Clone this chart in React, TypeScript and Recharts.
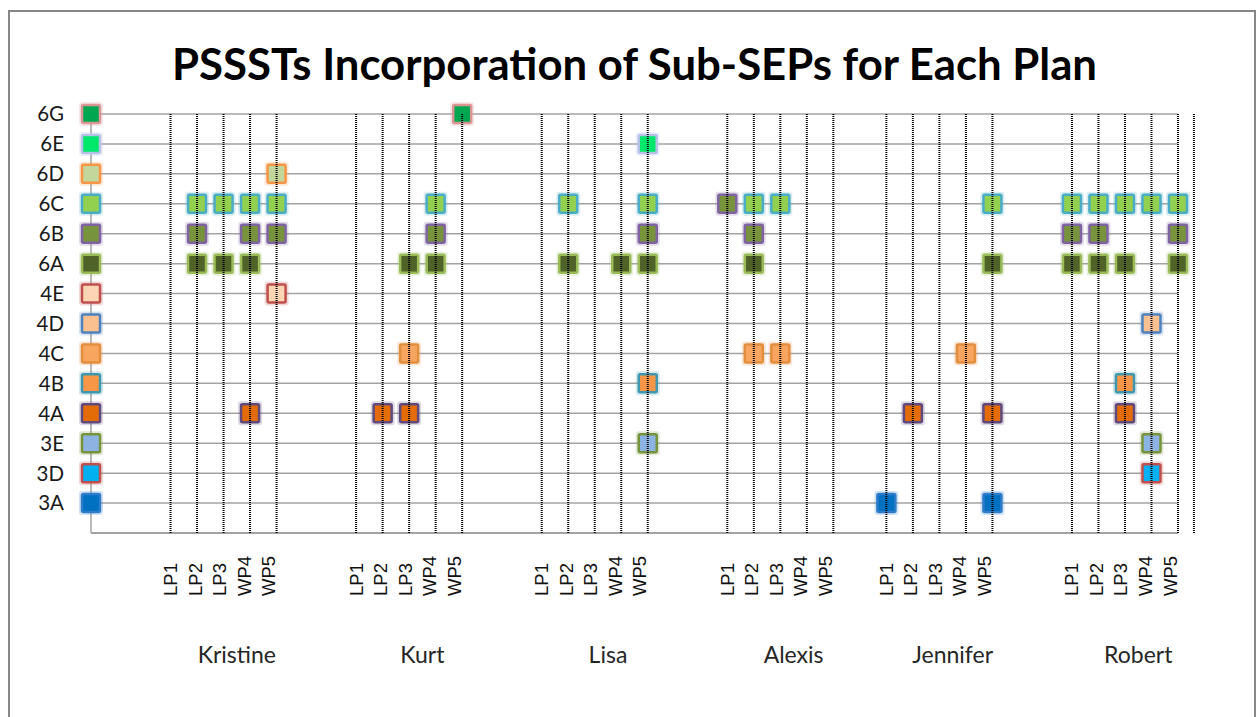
import React from 'react';
import { ScatterChart, Scatter, XAxis, YAxis, CartesianGrid, ReferenceLine } from 'recharts';

// ---------- data ----------
const subSeps = ['3A', '3D', '3E', '4A', '4B', '4C', '4D', '4E', '6A', '6B', '6C', '6D', '6E', '6G'];
const people = ['Kristine', 'Kurt', 'Lisa', 'Alexis', 'Jennifer', 'Robert'];
const plans = ['LP1', 'LP2', 'LP3', 'WP4', 'WP5'];
// category slot of each person's LP1 on the x axis (slot 0 holds the key column)
const groupStartSlots = [3, 10, 17, 24, 30, 37];
const lastSlot = 41;
// one stray guide line drawn just past the last slot in the original
const strayGuideSlots = [41.6];

const kristine: Record<string, string[]> = {
  '6D': ['WP5'],
  '6C': ['LP2', 'LP3', 'WP4', 'WP5'],
  '6B': ['LP2', 'WP4', 'WP5'],
  '6A': ['LP2', 'LP3', 'WP4'],
  '4E': ['WP5'],
  '4A': ['WP4'],
};
const kurt: Record<string, string[]> = {
  '6G': ['WP5'],
  '6C': ['WP4'],
  '6B': ['WP4'],
  '6A': ['LP3', 'WP4'],
  '4C': ['LP3'],
  '4A': ['LP2', 'LP3'],
};
const lisa: Record<string, string[]> = {
  '6E': ['WP5'],
  '6C': ['LP2', 'WP5'],
  '6B': ['WP5'],
  '6A': ['LP2', 'WP4', 'WP5'],
  '4B': ['WP5'],
  '3E': ['WP5'],
};
const alexis: Record<string, string[]> = {
  '6C': ['LP2', 'LP3'],
  '6B': ['LP2'],
  '6A': ['LP2'],
  '4C': ['LP2', 'LP3'],
};
const jennifer: Record<string, string[]> = {
  '6C': ['WP5'],
  '6A': ['WP5'],
  '4C': ['WP4'],
  '4A': ['LP2', 'WP5'],
  '3A': ['LP1', 'WP5'],
};
const robert: Record<string, string[]> = {
  '6C': ['LP1', 'LP2', 'LP3', 'WP4', 'WP5'],
  '6B': ['LP1', 'LP2', 'WP5'],
  '6A': ['LP1', 'LP2', 'LP3', 'WP5'],
  '4D': ['WP4'],
  '4B': ['LP3'],
  '4A': ['LP3'],
  '3E': ['WP4'],
  '3D': ['WP4'],
};
// a point of one series that sits on another sub-SEP's row in the original
const strayPoints = [{ series: '6B', person: 'Alexis', plan: 'LP1', row: '6C' }];

const personTables = [kristine, kurt, lisa, alexis, jennifer, robert];

// marker styles (fill, border) per sub-SEP
const markerFill: Record<string, string> = {
  '6G': '#00a650', '6E': '#00e86b', '6D': '#c3d69b', '6C': '#92d050', '6B': '#77933c', '6A': '#4f6228',
  '4E': '#fcd5b5', '4D': '#fac090', '4C': '#f8a560', '4B': '#f79646', '4A': '#e36c09',
  '3E': '#8db3e2', '3D': '#00b0f0', '3A': '#0070c0',
};
const markerBorder: Record<string, string> = {
  '6G': '#d99694', '6E': '#b7c1e6', '6D': '#f79646', '6C': '#4bacc6', '6B': '#8064a2', '6A': '#9bbb59',
  '4E': '#c0504d', '4D': '#4f81bd', '4C': '#e38e3e', '4B': '#3f98ae', '4A': '#604a7b',
  '3E': '#77933c', '3D': '#c0504d', '3A': '#2f7dca',
};

// ---------- derived ----------
const slotOf = (personIdx: number, plan: string) => groupStartSlots[personIdx] + plans.indexOf(plan);
const rowOf = (sep: string) => subSeps.indexOf(sep) + 1;

const planSlots: number[] = [];
const slotInfo = new Map<number, { plan: string; planIdx: number }>();
groupStartSlots.forEach((s) => {
  plans.forEach((plan, j) => {
    planSlots.push(s + j);
    slotInfo.set(s + j, { plan, planIdx: j });
  });
});
const groupCenters = groupStartSlots.map((s) => s + 2.5);
const nameAnchors = groupCenters.map((x) => ({ x, y: 0 }));
const rowTicks = subSeps.map((_, i) => i + 1);

const seriesData = subSeps.map((sep) => {
  const pts: { x: number; y: number }[] = [{ x: 0, y: rowOf(sep) }];
  personTables.forEach((tbl, p) => {
    (tbl[sep] || []).forEach((plan) => pts.push({ x: slotOf(p, plan), y: rowOf(sep) }));
  });
  strayPoints
    .filter((s) => s.series === sep)
    .forEach((s) => pts.push({ x: slotOf(people.indexOf(s.person), s.plan), y: rowOf(s.row) }));
  return pts;
});

// ---------- rendering ----------
const makeMarker = (fill: string, border: string) => (props: any) => {
  const { cx, cy } = props;
  if (cx == null || cy == null) return <g />;
  return (
    <g>
      <rect x={cx - 12} y={cy - 12} width={24} height={24} rx={3} fill={border} opacity={0.22} />
      <rect x={cx - 9} y={cy - 9} width={18} height={18} rx={1.5} fill={fill} stroke={border} strokeWidth={2.5} />
    </g>
  );
};

const YTick = (props: any) => {
  const { x, y, payload } = props;
  return (
    <text x={x} y={y} dy="0.36em" textAnchor="end" fontFamily="Lato, 'Open Sans', sans-serif" fontSize={20.5} fill="#1a1a1a">
      {subSeps[payload.value - 1]}
    </text>
  );
};

const PlanTick = (props: any) => {
  const { x, y, payload } = props;
  const info = slotInfo.get(payload.value);
  if (!info) return <g />;
  const tx = x + 6.5 - 2 * info.planIdx;
  const ty = y + 63;
  return (
    <text
      transform={`translate(${tx}, ${ty}) rotate(-90)`}
      textAnchor="start"
      fontFamily="'Liberation Sans', Arial, sans-serif"
      fontSize={18.5}
      fill="#111"
    >
      {info.plan}
    </text>
  );
};

const NameTick = (props: any) => {
  const { x, y, payload } = props;
  const idx = groupCenters.indexOf(payload.value);
  return (
    <text x={x} y={y + 40} textAnchor="middle" fontFamily="Lato, 'Open Sans', sans-serif" fontSize={23} fill="#262626">
      {people[idx]}
    </text>
  );
};

const NoShape = () => <g />;

export default function App() {
  return (
    <div style={{ position: 'absolute', left: 0, top: 0, width: 1258, height: 717, overflow: 'hidden', background: '#fff' }}>
      <div
        style={{
          position: 'absolute',
          left: 8,
          top: 10,
          width: 1244,
          height: 720,
          border: '2px solid #878787',
        }}
      />
      <div style={{ position: 'absolute', left: 0, top: 0 }}>
        <ScatterChart width={1258} height={717} margin={{ top: 114, right: 80, bottom: 0, left: 0 }}>
          <CartesianGrid horizontal vertical={false} stroke="#a3a3a3" strokeWidth={1.5} />
          <XAxis
            type="number"
            dataKey="x"
            domain={[0, lastSlot]}
            ticks={planSlots}
            interval={0}
            height={90}
            tickSize={0}
            tickMargin={0}
            tickLine={false}
            axisLine={{ stroke: '#a3a3a3', strokeWidth: 2 }}
            tick={<PlanTick />}
          />
          <XAxis
            xAxisId="names"
            type="number"
            dataKey="x"
            domain={[0, lastSlot]}
            ticks={groupCenters}
            interval={0}
            height={94}
            tickSize={0}
            tickMargin={0}
            tickLine={false}
            axisLine={false}
            tick={<NameTick />}
          />
          <YAxis
            type="number"
            dataKey="y"
            domain={[0, subSeps.length]}
            ticks={rowTicks}
            interval={0}
            width={91}
            tickSize={0}
            tickMargin={27}
            tickLine={false}
            axisLine={{ stroke: '#a3a3a3', strokeWidth: 1.5 }}
            tick={<YTick />}
          />
          <Scatter
            name="group names"
            xAxisId="names"
            data={nameAnchors}
            isAnimationActive={false}
            shape={NoShape}
            legendType="none"
          />
          {subSeps.map((sep, i) => (
            <Scatter
              key={sep}
              name={sep}
              data={seriesData[i]}
              fill={markerFill[sep]}
              isAnimationActive={false}
              shape={makeMarker(markerFill[sep], markerBorder[sep])}
            />
          ))}
          {[...planSlots, ...strayGuideSlots].map((s) => (
            <ReferenceLine
              key={`g${s}`}
              x={s}
              ifOverflow="visible"
              stroke="#000"
              strokeWidth={2}
              strokeDasharray="1 1"
              zIndex={700}
            />
          ))}
        </ScatterChart>
      </div>
      <svg width={1258} height={110} style={{ position: 'absolute', left: 0, top: 0, pointerEvents: 'none' }}>
        <text
          x={172}
          y={80}
          fontFamily="Lato, 'Open Sans', sans-serif"
          fontWeight={700}
          fontSize={43}
          textLength={925}
          lengthAdjust="spacingAndGlyphs"
          fill="#000"
        >
          PSSSTs Incorporation of Sub-SEPs for Each Plan
        </text>
      </svg>
    </div>
  );
}
